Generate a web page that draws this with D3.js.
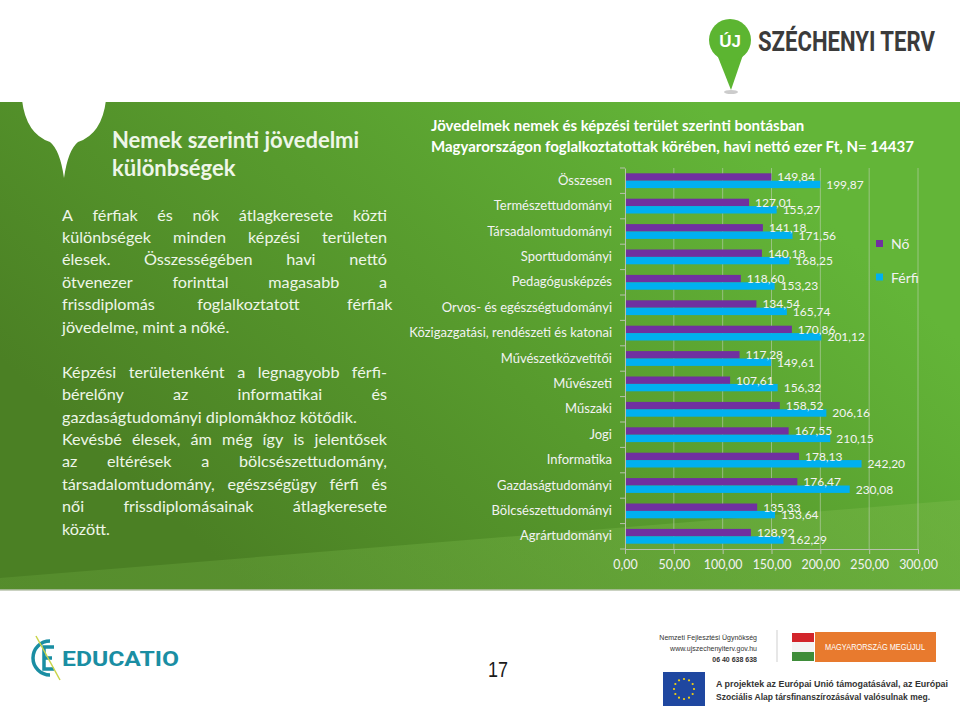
<!DOCTYPE html>
<html><head><meta charset="utf-8">
<script src="https://cdn.jsdelivr.net/npm/d3@7"></script>
<style>body{margin:0;background:#fff}svg{display:block}</style>
</head><body>
<svg id="c" width="960" height="720"></svg>
<script>
// ---------------- DATA ----------------
const categories = ["Összesen","Természettudományi","Társadalomtudományi","Sporttudományi","Pedagógusképzés","Orvos- és egészségtudományi","Közigazgatási, rendészeti és katonai","Művészetközvetítői","Művészeti","Műszaki","Jogi","Informatika","Gazdaságtudományi","Bölcsészettudományi","Agrártudományi"];
const noValues = [149.84,127.01,141.18,140.18,118.60,134.54,170.86,117.28,107.61,158.52,167.55,178.13,176.47,135.33,128.92];
const ferfiValues = [199.87,155.27,171.56,168.25,153.23,165.74,201.12,149.61,156.32,206.16,210.15,242.20,230.08,153.64,162.29];
const seriesNames = ["Nő","Férfi"];
const seriesColors = ["#7030a0","#00b0f0"];
const xTicks = [0,50,100,150,200,250,300];
const chartTitle = ["Jövedelmek nemek és képzési terület szerinti bontásban","Magyarországon foglalkoztatottak körében, havi nettó ezer Ft, N= 14437"];
const sideHeading = ["Nemek szerinti jövedelmi","különbségek"];
const sideLines = [
  ["A férfiak és nők átlagkeresete közti", true],
  ["különbségek minden  képzési területen", true],
  ["élesek. Összességében havi nettó", true],
  ["ötvenezer forinttal magasabb a", true],
  ["frissdiplomás foglalkoztatott férfiak", true],
  ["jövedelme, mint a nőké.", false],
  ["", false],
  ["Képzési területenként a legnagyobb férfi-", true],
  ["bérelőny az informatikai és", true],
  ["gazdaságtudományi diplomákhoz kötődik.", false],
  ["Kevésbé élesek, ám még így is jelentősek", true],
  ["az eltérések a bölcsészettudomány,", true],
  ["társadalomtudomány, egészségügy férfi és", true],
  ["női frissdiplomásainak átlagkeresete", true],
  ["között.", false]
];
const pageNumber = "17";

// ---------------- SETUP ----------------
const svg = d3.select("#c");
const locale = d3.formatLocale({decimal:",", thousands:" ", grouping:[3], currency:["","Ft"]});
const fmt = locale.format(".2f");
const defs = svg.append("defs");

// background band
const g1 = defs.append("linearGradient").attr("id","bg").attr("gradientUnits","userSpaceOnUse")
  .attr("x1",700).attr("y1",102).attr("x2",250).attr("y2",590);
g1.append("stop").attr("offset",0).attr("stop-color","#63b538");
g1.append("stop").attr("offset",0.5).attr("stop-color","#579a2d");
g1.append("stop").attr("offset",1).attr("stop-color","#4b8024");
const g2 = defs.append("linearGradient").attr("id","hl").attr("gradientUnits","userSpaceOnUse")
  .attr("x1",0).attr("y1",590).attr("x2",960).attr("y2",480);
g2.append("stop").attr("offset",0).attr("stop-color","#7ab84a").attr("stop-opacity",0.22);
g2.append("stop").attr("offset",1).attr("stop-color","#7ab84a").attr("stop-opacity",0.45);

svg.append("rect").attr("x",0).attr("y",0).attr("width",960).attr("height",720).attr("fill","#fff");
svg.append("rect").attr("x",0).attr("y",102).attr("width",960).attr("height",488).attr("fill","url(#bg)");
svg.append("path").attr("d","M0,590 L0,578 L960,500 L960,590 Z").attr("fill","url(#hl)");
svg.append("line").attr("x1",0).attr("x2",960).attr("y1",590).attr("y2",590).attr("stroke","#b9c3ad").attr("stroke-width",1.5);

// white pin shape on left
svg.append("path").attr("d","M22,100 Q26,134 50,142 Q60,150 64,178 Q68,150 78,142 Q102,134 106,100 Z").attr("fill","#fff");

// ---------------- TOP RIGHT LOGO ----------------
const logo = svg.append("g");
logo.append("ellipse").attr("cx",731).attr("cy",92).attr("rx",7).attr("ry",2).attr("fill","#ccc");
logo.append("path").attr("d","M716,52 L744,52 L731,90 Z").attr("fill","#5cb531");
logo.append("circle").attr("cx",730).attr("cy",40).attr("r",21).attr("fill","#5cb531");
logo.append("text").attr("x",730).attr("y",47).attr("text-anchor","middle").attr("fill","#fff")
  .style("font","bold 17px 'Liberation Sans'").text("ÚJ");
const szt = logo.append("text").attr("x",0).attr("y",0).attr("fill","#3b3b3b")
  .style("font","bold 22px Roboto").text("SZÉCHENYI TERV");
const sztW = szt.node().getComputedTextLength();
szt.attr("transform",`translate(758,51) scale(${177/sztW},1.25)`);

// ---------------- LEFT TEXT ----------------
const txtCol = "#eef6e8";
svg.append("g").selectAll("text").data(sideHeading).join("text")
  .attr("x",112).attr("y",(d,i)=>148+i*27.5).attr("fill",txtCol)
  .style("font","bold 22px Lato").text(d=>d);

const paraX0 = 62, paraX1 = 387, paraFont = "16.2px Lato";
const para = svg.append("g").attr("fill",txtCol).style("font",paraFont);
sideLines.forEach(([line, just], i) => {
  const yy = 220.5 + i*22.45;
  if (!line) return;
  const words = line.split(/\s+/);
  if (!just) {
    para.append("text").attr("x",paraX0).attr("y",yy).text(line);
    return;
  }
  const t = para.append("text").attr("y",yy);
  const spans = words.map(w => t.append("tspan").text(w));
  const widths = spans.map(s => s.node().getComputedTextLength());
  const total = d3.sum(widths);
  const gap = (paraX1 - paraX0 - total)/(words.length-1);
  let xx = paraX0;
  spans.forEach((s,k)=>{ s.attr("x",xx); xx += widths[k]+gap; });
});

// ---------------- CHART ----------------
const chart = svg.append("g");
chart.selectAll("text.title").data(chartTitle).join("text").attr("class","title")
  .attr("x",431).attr("y",(d,i)=>131+i*21).attr("fill","#fff")
  .style("font","bold 15px Lato").text(d=>d);

const x = d3.scaleLinear().domain([0,300]).range([625,918]);
const y = d3.scaleBand().domain(categories).range([168,549]);
const inner = d3.scaleBand().domain(seriesNames).range([0,y.bandwidth()]).paddingOuter(0.716);

// grid
chart.append("g").selectAll("line").data(xTicks.slice(1)).join("line")
  .attr("x1",d=>x(d)).attr("x2",d=>x(d)).attr("y1",168).attr("y2",549)
  .attr("stroke","#c9d3bf").attr("stroke-opacity",0.55).attr("stroke-width",1);

// bars
const rows = categories.map((c,i)=>({c, vals:[noValues[i], ferfiValues[i]]}));
const rowG = chart.append("g").selectAll("g").data(rows).join("g")
  .attr("transform",d=>`translate(0,${y(d.c)})`);
rowG.selectAll("rect").data(d=>d.vals.map((v,k)=>({v,k}))).join("rect")
  .attr("x",x(0)).attr("y",d=>inner(seriesNames[d.k]))
  .attr("width",d=>x(d.v)-x(0)).attr("height",inner.bandwidth())
  .attr("fill",d=>seriesColors[d.k]);
rowG.selectAll("text").data(d=>d.vals.map((v,k)=>({v,k}))).join("text")
  .attr("x",d=>x(d.v)+6).attr("y",d=>inner(seriesNames[d.k])+inner.bandwidth()/2)
  .attr("dy","0.36em").attr("fill","#f4f4f4").style("font","12px Lato")
  .text(d=>fmt(d.v));

// left axis
const ax = chart.append("g").attr("transform",`translate(${x(0)},0)`)
  .call(d3.axisLeft(y).tickSize(0).tickPadding(13));
ax.select(".domain").attr("stroke","#b8c2ad");
ax.selectAll("text").attr("fill","#f2f2f2").style("font","13px Lato");
chart.append("g").selectAll("line").data(categories.map(c=>y(c)).concat([y.range()[1]])).join("line")
  .attr("x1",x(0)-5).attr("x2",x(0)).attr("y1",d=>d).attr("y2",d=>d).attr("stroke","#b8c2ad");

// bottom axis
const bx = chart.append("g").attr("transform","translate(0,549)")
  .call(d3.axisBottom(x).tickValues(xTicks).tickFormat(fmt).tickSize(5).tickPadding(6));
bx.selectAll("line").attr("stroke","#b8c2ad");
bx.select(".domain").attr("stroke","#b8c2ad");
bx.selectAll("text").attr("fill","#f2f2f2").style("font","12.4px Lato");

// legend
const lg = chart.append("g").selectAll("g").data(seriesNames).join("g")
  .attr("transform",(d,i)=>`translate(876,${240+i*33.5})`);
lg.append("rect").attr("width",7).attr("height",7).attr("fill",(d,i)=>seriesColors[i]);
lg.append("text").attr("x",15).attr("y",4).attr("dy","0.36em").attr("fill","#f2f2f2")
  .style("font","14px Lato").text(d=>d);

// ---------------- FOOTER ----------------
const ft = svg.append("g");
// Educatio
ft.append("path").attr("d","M50,641 A17,17 0 1 0 50,675").attr("fill","none").attr("stroke","#1a8ea3").attr("stroke-width",3.5);
ft.append("path").attr("d","M54,647 L44,647 L44,669 L54,669 M44,658 L52,658").attr("fill","none").attr("stroke","#1a8ea3").attr("stroke-width",3.5);
ft.append("line").attr("x1",36).attr("y1",636).attr("x2",60).attr("y2",680).attr("stroke","#c9d448").attr("stroke-width",1.5);
ft.append("text").attr("x",62).attr("y",666).attr("fill","#1a8ea3").attr("textLength",117).attr("lengthAdjust","spacingAndGlyphs")
  .style("font","bold 20px Roboto").text("EDUCATIO");
// page number
ft.append("text").attr("x",498).attr("y",677).attr("text-anchor","middle").attr("fill","#1a1a1a")
  .attr("textLength",20).attr("lengthAdjust","spacingAndGlyphs")
  .style("font","22px 'Liberation Sans'").text(pageNumber);
// agency text
const ag = ["Nemzeti Fejlesztési Ügynökség","www.ujszechenyiterv.gov.hu","06 40 638 638"];
ft.append("g").selectAll("text").data(ag).join("text").attr("x",757).attr("y",(d,i)=>640+i*11)
  .attr("text-anchor","end").attr("fill","#333").style("font",(d,i)=>(i==2?"bold ":"")+"7px 'Liberation Sans'").text(d=>d);
ft.append("line").attr("x1",777).attr("x2",777).attr("y1",630).attr("y2",662).attr("stroke","#cfcfcf");
ft.append("rect").attr("x",792).attr("y",633).attr("width",22).attr("height",9).attr("fill","#d2252b");
ft.append("rect").attr("x",792).attr("y",642).attr("width",22).attr("height",10).attr("fill","#f4f4f4");
ft.append("rect").attr("x",792).attr("y",652).attr("width",22).attr("height",9).attr("fill","#3f8d3a");
ft.append("rect").attr("x",815).attr("y",632).attr("width",121).attr("height",30).attr("fill","#e87a2e");
ft.append("text").attr("x",875).attr("y",650).attr("text-anchor","middle").attr("fill","#fff")
  .attr("textLength",100).attr("lengthAdjust","spacingAndGlyphs").style("font","9px 'Liberation Sans'").text("MAGYARORSZÁG MEGÚJUL");
// EU flag
ft.append("rect").attr("x",663).attr("y",672).attr("width",42).attr("height",34).attr("fill","#1f47a0");
ft.append("g").selectAll("circle").data(d3.range(12)).join("circle")
  .attr("cx",d=>684+10*Math.cos(d*Math.PI/6)).attr("cy",d=>689+10*Math.sin(d*Math.PI/6)).attr("r",1.1).attr("fill","#f6d20f");
const eu = ["A projektek az Európai Unió támogatásával, az Európai","Szociális Alap társfinanszírozásával valósulnak meg."];
ft.append("g").selectAll("text").data(eu).join("text").attr("x",716).attr("y",(d,i)=>687+i*13)
  .attr("fill","#333").attr("textLength",(d,i)=>i?214:232).attr("lengthAdjust","spacingAndGlyphs")
  .style("font","bold 8.6px 'Liberation Sans'").text(d=>d);
</script>
</body></html>
